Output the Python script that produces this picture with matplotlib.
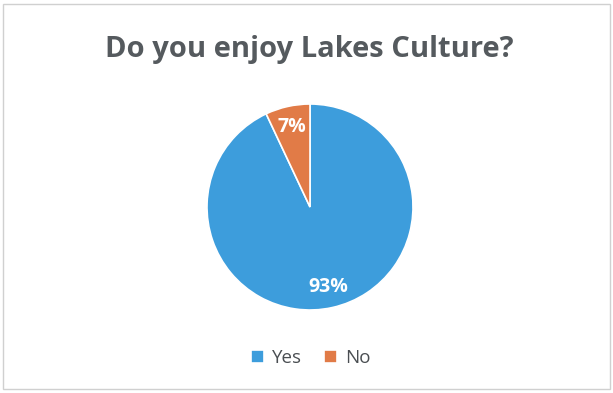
import matplotlib
matplotlib.use("Agg")
import matplotlib.pyplot as plt
from matplotlib.patches import Rectangle

labels = ["Yes", "No"]
values = [93, 7]
colors = ["#3d9ddc", "#e17b47"]

fig = plt.figure(figsize=(6.13, 3.93), dpi=100)
fig.patch.set_facecolor("white")
fig.patches.append(Rectangle((0.005, 0.01), 0.99, 0.98, transform=fig.transFigure,
                             fill=False, edgecolor="#d0d0d0", linewidth=1))

cx, cy, r = 310 / 613, 1 - 207 / 393, 103
w, h = 2 * r / 613, 2 * r / 393
ax = fig.add_axes([cx - w / 2, cy - h / 2, w, h])
wedges, texts, autotexts = ax.pie(values, colors=colors, startangle=90, counterclock=False,
                                  autopct=lambda p: f"{p:.0f}%", pctdistance=0.8,
                                  wedgeprops=dict(edgecolor="white", linewidth=1.2),
                                  textprops=dict(color="white", fontsize=14, fontweight="bold",
                                                 family="Open Sans"))
ax.set_xlim(-1, 1)
ax.set_ylim(-1, 1)
ax.set_aspect("equal")

fig.text(0.505, 1 - 50 / 393, "Do you enjoy Lakes Culture?", ha="center", va="center",
         fontsize=21, fontweight="bold", color="#555a5e", family="Open Sans")

leg = fig.legend(wedges, labels, loc="center", bbox_to_anchor=(0.507, 1 - 358 / 393),
                 ncol=2, frameon=False, handlelength=0.7, handleheight=0.7,
                 columnspacing=1.2, handletextpad=0.4,
                 prop=dict(family="Open Sans", size=13.5))
for t in leg.get_texts():
    t.set_color("#4a4e52")

fig.savefig("out.png", dpi=100)
